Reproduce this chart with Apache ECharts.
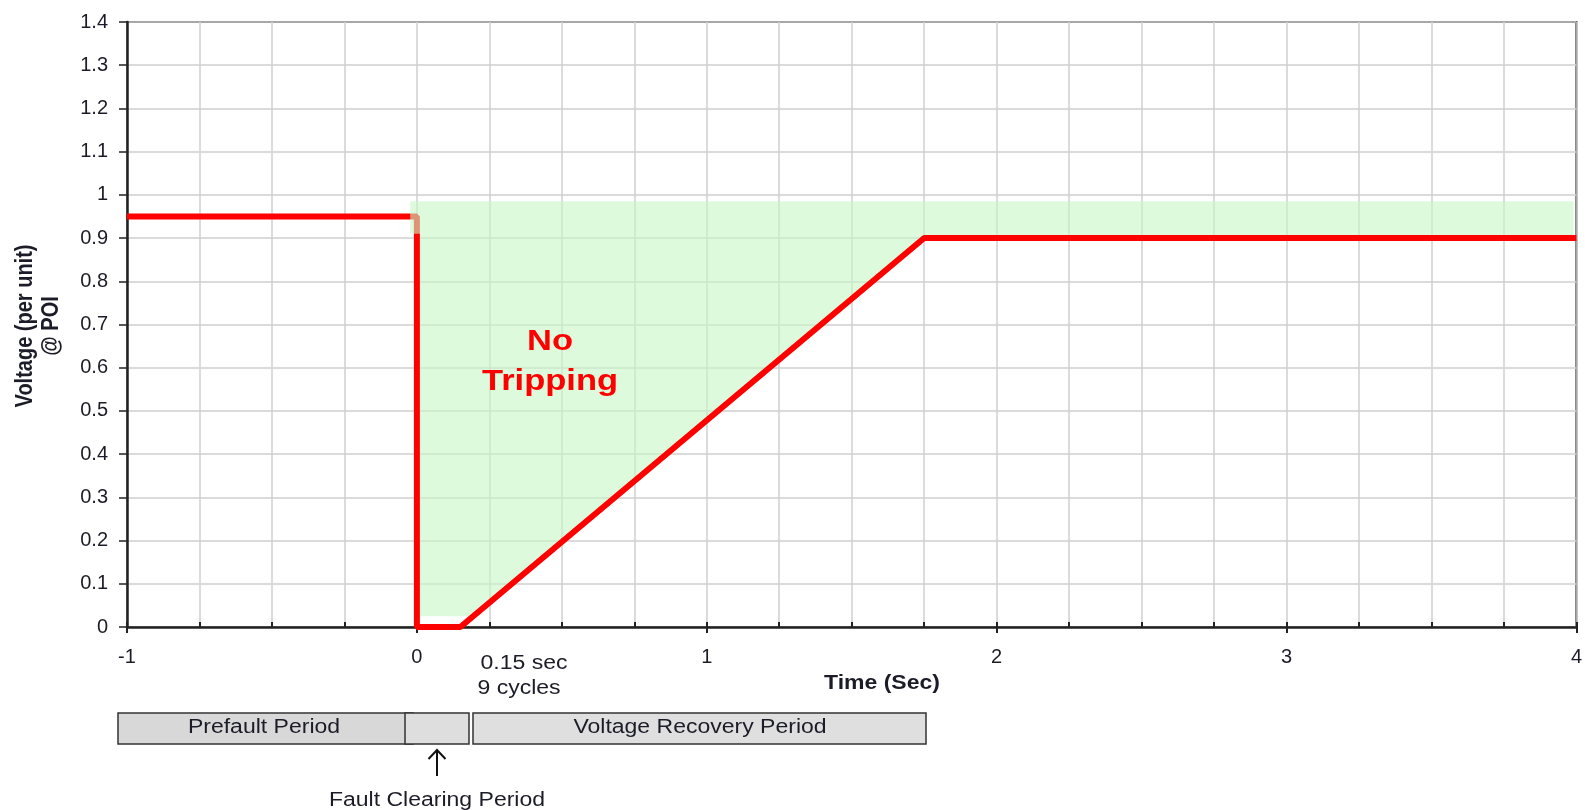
<!DOCTYPE html>
<html>
<head>
<meta charset="utf-8">
<style>
 html, body{
 	margin: 0;
 	padding: 0;
 	background: #fff;
 }
 #chart{
 	width: 1585px;
 	height: 810px;
 }
</style>
<script src="https://cdn.jsdelivr.net/npm/echarts@6/dist/echarts.min.js"></script>
</head>
<body>
<div id="chart"></div>
<script type="text/javascript">
	// voltage ride-through curve (time in sec, voltage per unit)
	var timeSec = [-1, 0, 0, 0.15, 1.75, 4];
	var voltagePu = [0.95, 0.95, 0, 0, 0.9, 0.9];

	// "no tripping" zone, drawn as two pieces
	var zoneTime = [0, 3.99, 3.99, 1.75, 0.194, 0];
	var zoneVolt = [0.91, 0.91, 0.9, 0.9, 0.025, 0.025];
	var bandTime = [-0.023, 3.99, 3.99, -0.023];
	var bandVolt = [0.985, 0.985, 0.91, 0.91];

	var font = '"Liberation Sans", Arial, sans-serif';
	var txt = '#1c1c28';
	var zoneColor = 'rgba(198,247,198,0.6)';

	function polygonItem(xs, ys) {
		return function (params, api) {
			var pts = [];
			for (var i = 0; i < xs.length; i++) {
				pts.push(api.coord([xs[i], ys[i]]));
			}
			return {type: 'polygon', shape: {points: pts}, style: {fill: zoneColor}};
		};
	}

	function label(text, x, y, size, bold, color, extra) {
		var el = {
			type: 'text', x: x, y: y, scaleX: 1.15, z: 10,
			style: {
				text: text, fill: color || txt,
				font: (bold ? 'bold ' : '') + size + 'px ' + font,
				align: 'center', verticalAlign: 'middle'
			}
		};
		if (extra) for (var k in extra) el[k] = extra[k];
		return el;
	}

	function box(x1, x2, fill) {
		return {
			type: 'rect', z: 5,
			shape: {x: x1, y: 713, width: x2 - x1, height: 31},
			style: {fill: fill, stroke: '#333', lineWidth: 1.5}
		};
	}

	var pts = [];
	for (var i = 0; i < timeSec.length; i++) pts.push([timeSec[i], voltagePu[i]]);

	var options = {
		animation: false,
		grid: {
			left: 127, top: 22, width: 1451, height: 605,
			show: true, borderColor: '#333', borderWidth: 2
		},
		xAxis: [{
			type: 'value', min: -1, max: 4, interval: 1, position: 'bottom',
			axisLine: {onZero: false, lineStyle: {color: '#222', width: 2.5}},
			axisTick: {show: true, length: 6, lineStyle: {color: '#222', width: 2}},
			axisLabel: {margin: 20, color: txt, fontSize: 20, fontFamily: font},
			splitLine: {show: false}
		}, {
			type: 'value', min: -1, max: 4, interval: 0.25, position: 'bottom',
			axisLine: {show: false},
			axisTick: {show: true, inside: true, length: 5, lineStyle: {color: '#222', width: 2}},
			axisLabel: {show: false},
			splitLine: {show: true, lineStyle: {color: '#cfcfcf', width: 1.5}}
		}],
		yAxis: {
			type: 'value', min: 0, max: 1.4, interval: 0.1,
			axisLine: {show: true, onZero: false, lineStyle: {color: '#222', width: 2.5}},
			axisTick: {show: true, length: 8, lineStyle: {color: '#222', width: 1.5}},
			axisLabel: {margin: 19, color: txt, fontSize: 20, fontFamily: font},
			splitLine: {show: true, lineStyle: {color: '#cfcfcf', width: 1.5}}
		},
		series: [{
			type: 'custom', xAxisIndex: 0, silent: true, z: 2,
			renderItem: polygonItem(zoneTime, zoneVolt),
			data: [[0, 0]]
		}, {
			type: 'line', xAxisIndex: 0, z: 3,
			symbol: 'none', silent: true,
			lineStyle: {color: '#ff0000', width: 6},
			data: pts
		}, {
			type: 'custom', xAxisIndex: 0, silent: true, z: 4,
			renderItem: polygonItem(bandTime, bandVolt),
			data: [[0, 0]]
		}],
		graphic: [
			label('No', 550, 342, 30, true, '#ff0000'),
			label('Tripping', 550, 382, 30, true, '#ff0000'),
			label('Time (Sec)', 882, 683, 20, true),
			label('Voltage (per unit)', 26, 326, 20, true, null, {rotation: Math.PI / 2, scaleX: 1, scaleY: 1.15}),
			label('@ POI', 52, 326, 20, true, null, {rotation: Math.PI / 2, scaleX: 1, scaleY: 1.15}),
			label('0.15 sec', 524, 663, 20, false),
			label('9 cycles', 519, 688, 20, false),
			box(118, 413, '#d8d8d8'),
			box(405, 469, '#dedede'),
			box(473, 926, '#dfdfdf'),
			label('Prefault Period', 264, 727, 20, false),
			label('Voltage Recovery Period', 700, 727, 20, false),
			{
				type: 'polyline', z: 5,
				shape: {points: [[437, 776], [437, 750]]},
				style: {stroke: '#111', lineWidth: 2, fill: null}
			},
			{
				type: 'polyline', z: 5,
				shape: {points: [[428.5, 759], [437, 750], [445.5, 759]]},
				style: {stroke: '#111', lineWidth: 2, fill: null}
			},
			label('Fault Clearing Period', 437, 800, 20, false)
		]
	};

	var myChart = echarts.init(document.getElementById('chart'));
	myChart.setOption(options);
</script>
</body>
</html>
